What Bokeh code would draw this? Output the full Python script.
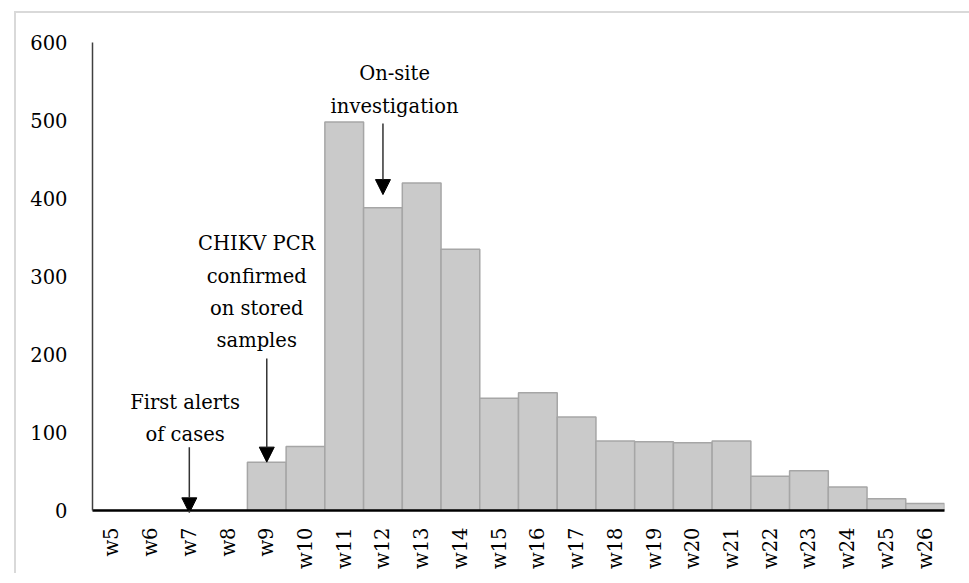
import math
from bokeh.plotting import figure
from bokeh.models import (FactorRange, Range1d, Arrow, NormalHead, Label,
                          FixedTicker, ColumnDataSource)
from bokeh.embed import file_html
from bokeh.resources import INLINE

weeks = ["w5", "w6", "w7", "w8", "w9", "w10", "w11", "w12", "w13", "w14", "w15",
         "w16", "w17", "w18", "w19", "w20", "w21", "w22", "w23", "w24", "w25", "w26"]
cases = [0, 0, 0, 0, 62, 82, 498, 388, 420, 335, 144,
         151, 120, 89, 88, 87, 89, 44, 51, 30, 15, 9]
y_ticks = [0, 100, 200, 300, 400, 500, 600]

FONT = "DejaVu Serif"
FS = "19.5px"

W, H = 956, 562
p = figure(width=W, height=H, output_backend="svg", toolbar_location=None,
           x_range=FactorRange(factors=weeks, range_padding=0),
           y_range=Range1d(0, 600),
           min_border_left=76, min_border_right=28,
           min_border_top=29, min_border_bottom=65)
p.margin = (11, 0, 0, 14)
p.styles = {"border-top": "2px solid #d9d9d9", "border-left": "2px solid #d9d9d9"}
p.outline_line_color = None
p.xgrid.grid_line_color = None
p.ygrid.grid_line_color = None
p.background_fill_color = "white"
p.border_fill_color = "white"

src = ColumnDataSource(dict(x=weeks, top=cases))
p.vbar(x="x", top="top", width=1.0, source=src, fill_color="#cacaca",
       line_color="#a6a6a6", line_width=1.5)

# axes
p.yaxis.ticker = FixedTicker(ticks=y_ticks)
p.yaxis.major_tick_line_color = None
p.yaxis.minor_tick_line_color = None
p.yaxis.major_tick_out = 0
p.yaxis.minor_tick_out = 0
p.yaxis.axis_line_color = "#404040"
p.yaxis.axis_line_width = 1.5
p.yaxis.major_label_standoff = 25
p.yaxis.major_label_text_font = FONT
p.yaxis.major_label_text_font_size = FS
p.yaxis.major_label_text_color = "black"

p.xaxis.major_tick_line_color = None
p.xaxis.minor_tick_line_color = None
p.xaxis.major_tick_out = 0
p.xaxis.minor_tick_out = 0
p.xaxis.axis_line_color = "black"
p.xaxis.axis_line_width = 2.5
p.xaxis.major_label_orientation = math.pi / 2
p.xaxis.major_label_standoff = 17
p.xaxis.major_label_text_font = FONT
p.xaxis.major_label_text_font_size = FS
p.xaxis.major_label_text_color = "black"

# annotations: (text lines, text x, first-line y, line step, arrow x, arrow y start, arrow y end)
notes = [
    (["First alerts", "of cases"], 2.39, 139, 41, 2.5, 81, -3),
    (["CHIKV PCR", "confirmed", "on stored", "samples"], 4.24, 342, 41.5, 4.5, 195, 62),
    (["On-site", "investigation"], 7.80, 560, 42, 7.5, 496, 405),
]
for lines, tx, ty, step, ax, ay0, ay1 in notes:
    for i, t in enumerate(lines):
        p.add_layout(Label(x=tx, y=ty - i * step, text=t, text_font=FONT,
                           text_font_size=FS, text_align="center",
                           text_baseline="middle", text_color="black"))
    p.add_layout(Arrow(end=NormalHead(size=15, fill_color="black", line_color="black"),
                       x_start=ax, y_start=ay0, x_end=ax, y_end=ay1,
                       line_color="#333333", line_width=1.5))

open("out.html", "w").write(file_html(p, INLINE))
